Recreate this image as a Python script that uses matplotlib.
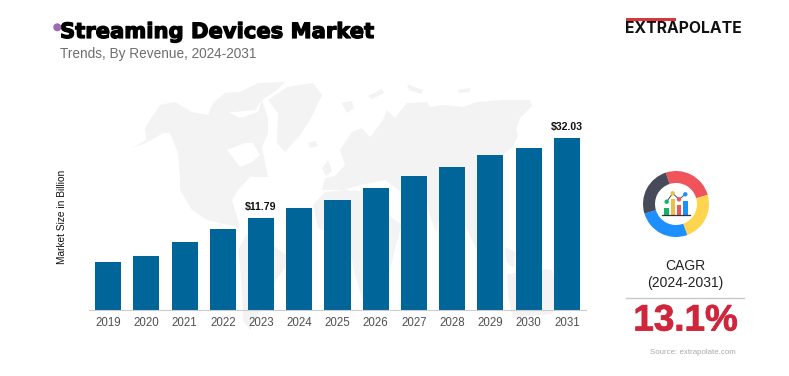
import matplotlib
matplotlib.use("Agg")
import matplotlib.pyplot as plt
import matplotlib.patheffects as pe
from matplotlib.patches import Polygon, Wedge, Circle, Rectangle

W, H = 789, 376
years = ["2019","2020","2021","2022","2023","2024","2025","2026","2027","2028","2029","2030","2031"]
# bar heights, on the scale where the last bar is 32.03
values = [8.9, 10.1, 12.6, 15.1, 17.2, 19.0, 20.5, 22.7, 24.9, 26.6, 28.8, 30.2, 32.03]
value_labels = {"2023": "$11.79", "2031": "$32.03"}
BAR = "#006599"
plt.rcParams["font.family"] = ["Liberation Sans", "DejaVu Sans"]

fig = plt.figure(figsize=(W/100, H/100), dpi=100, facecolor="white")
bg = fig.add_axes([0, 0, 1, 1]); bg.set_xlim(0, W); bg.set_ylim(H, 0); bg.axis("off")

# decorative world map outline, in pixel positions of the canvas
land = [
 # North America
 [(132,148),(146,140),(145,128),(160,105),(175,102),(192,112),(208,115),(213,103),(225,110),(240,118),(258,112),(262,100),(268,118),(268,133),(262,147),(268,177),(250,177),(238,190),(232,200),(240,227),(232,226),(207,220),(192,210),(180,190),(180,177),(178,153),(170,133),(163,133),(148,142)],
 # Arctic islands
 [(213,103),(225,93),(240,92),(258,83),(285,82),(277,90),(262,100),(255,110),(235,112),(222,112)],
 # Greenland
 [(268,100),(287,87),(313,83),(322,95),(310,120),(300,135),(285,152),(277,143),(278,113)],
 [(308,143),(316,141),(318,146),(310,148)],
 [(342,103),(352,101),(354,108),(347,113)],
 [(368,96),(382,89),(384,93),(372,99)],
 [(407,84),(423,90),(421,94),(409,90)],
 [(457,90),(470,88),(470,92),(460,93)],
 # Cuba
 [(218,218),(230,220),(238,226),(226,224)],
 # South America
 [(246,235),(262,232),(275,247),(287,256),(285,268),(276,280),(268,300),(255,320),(250,330),(243,320),(242,295),(240,265),(238,250)],
 # Britain
 [(322,168),(328,160),(332,171),(326,176)],
 # Eurasia
 [(322,190),(325,178),(335,176),(345,165),(340,150),(352,132),(362,128),(370,137),(383,120),(387,110),(395,118),(407,103),(427,102),(430,107),(443,105),(463,107),(477,102),(503,100),(530,100),(532,106),(520,118),(516,130),(518,135),(513,147),(495,160),(490,180),(478,190),(478,215),(477,250),(465,225),(455,195),(445,195),(436,232),(428,210),(425,190),(405,195),(385,180),(360,185),(345,190),(335,190)],
 # Africa
 [(313,205),(325,192),(345,190),(370,192),(380,205),(392,218),(402,225),(396,245),(390,270),(378,295),(362,298),(355,275),(350,250),(335,235),(318,228)],
 # Indonesia
 [(505,247),(515,252),(514,268),(506,262)],
 # Australia
 [(507,275),(530,268),(552,270),(562,292),(552,314),(530,316),(513,318),(508,296)],
]
for c in land:
    bg.add_patch(Polygon(c, closed=True, fc="#f3f3f3", ec="none", zorder=0))
# Hudson Bay
bg.add_patch(Polygon([(245,143),(253,143),(260,155),(252,162),(240,167),(227,150)], closed=True, fc="white", ec="none", zorder=0.5))

L, R, T, B = 89, 586, 100, 310
ax = fig.add_axes([L/W, 1-B/H, (R-L)/W, (B-T)/H], facecolor="none")
x = list(range(len(years)))
ax.bar(x, values, width=0.68, color=BAR)
ax.set_xlim(-0.497, 12.497)
ax.set_ylim(0, 210*32.03/172)
ax.set_xticks(x, years, fontsize=8.3, color="#505050")
ax.set_yticks([])
ax.tick_params(axis="x", length=0, pad=5)
for s in ("top", "left", "right"):
    ax.spines[s].set_visible(False)
ax.spines["bottom"].set_color("#cccccc")
for i, y in enumerate(years):
    if y in value_labels:
        ax.annotate(value_labels[y], (i, values[i]), xytext=(0, 4), textcoords="offset points",
                    ha="center", va="bottom", fontsize=7.6, fontweight="bold", color="#111111")

fig.text(62/W, 1-217/H, "Market Size in Billion", rotation=90, ha="center", va="center", fontsize=7.3, color="#111111")

bg.text(60, 32, "Streaming Devices Market", fontsize=15.2, fontweight="bold", family="DejaVu Sans", color="black", va="center", ha="left",
        path_effects=[pe.withStroke(linewidth=0.9, foreground="black")])
bg.text(60, 54, "Trends, By Revenue, 2024-2031", fontsize=9.85, color="#6e6e6e", va="center", ha="left")
bg.add_patch(Circle((57.3, 27.3), 4, fc="#9b6bb3", ec="none", zorder=5))

bg.add_patch(Rectangle((626, 18.3), 50, 2.2, fc="#d9363e", ec="none"))
bg.text(625, 28.5, "EXTRAPOLATE", fontsize=11.3, fontweight="bold", family="Inter", color="#111111", va="center", ha="left")

# donut icon
cx, cy = 676, 204
segs = [(16, 108, "#f0535a"), (-70, 16, "#ffd54f"), (-163, -70, "#1e8fff"), (108, 197, "#474a59")]
for a, b, col in segs:
    bg.add_patch(Wedge((cx, cy), 33, -b, -a, width=12, fc=col, ec="none"))
for x0, x1, top, col in [(664.5, 669, 207.7, "#16b26a"), (671, 675, 199, "#e8c04a"), (676.7, 681, 205, "#f0535a"), (683, 687.7, 200.7, "#1e8fff")]:
    bg.add_patch(Rectangle((x0, top), x1-x0, 215-top, fc=col, ec="none"))
bg.plot([661.7, 690], [215.3, 215.3], color="#333333", lw=0.9)
pts = [(666.7, 201.7, "#16b26a"), (672.7, 193.3, "#e8c04a"), (679, 199.3, "#f0535a"), (685.3, 194.3, "#1e8fff")]
bg.plot([p[0] for p in pts], [p[1] for p in pts], color="#333333", lw=0.6)
for px, py, col in pts:
    bg.add_patch(Circle((px, py), 2.2, fc=col, ec="none", zorder=5))
bg.set_xlim(0, W); bg.set_ylim(H, 0)

bg.text(685, 266, "CAGR", fontsize=10, color="#222222", ha="center", va="center")
bg.text(685, 283, "(2024-2031)", fontsize=10, color="#222222", ha="center", va="center")
bg.plot([626, 744], [298, 298], color="#c8c8c8", lw=1)
bg.text(685.5, 321, "13.1%", fontsize=26.5, fontweight="bold", color="#d0263c", ha="center", va="center",
        path_effects=[pe.withStroke(linewidth=0.6, foreground="#d0263c")])
bg.text(693, 353, "Source: extrapolate.com", fontsize=5.7, color="#aaaaaa", ha="center", va="center")

fig.savefig("out.png", dpi=100, facecolor="white")
